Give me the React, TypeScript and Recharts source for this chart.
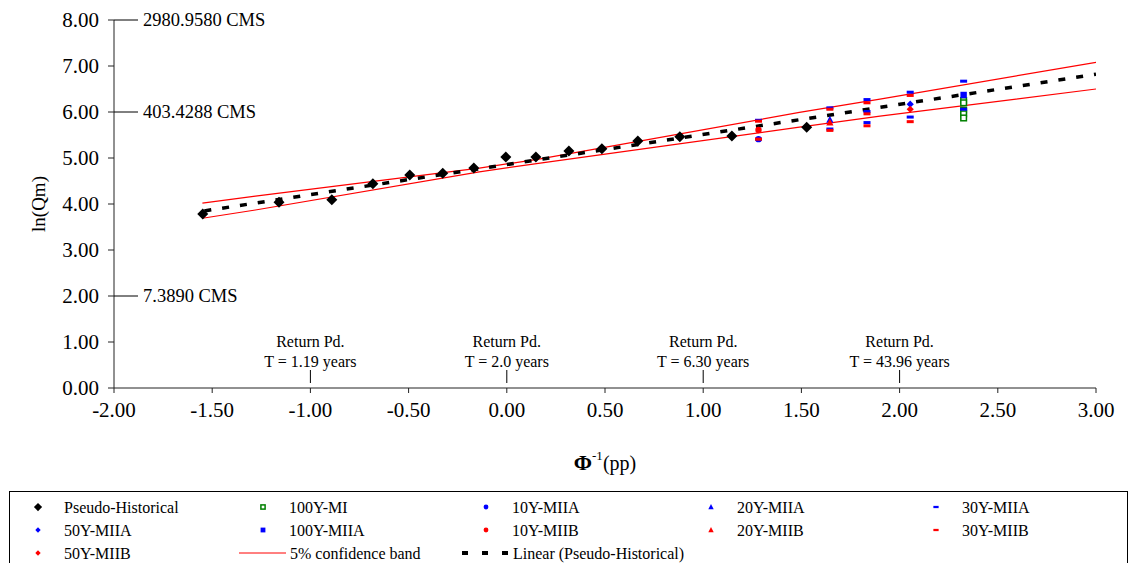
import React from "react";
import { ComposedChart, Scatter, Line, XAxis, YAxis, ReferenceDot } from "recharts";

const FONT = '"Liberation Serif", "Times New Roman", serif';

const xTicks = [-2, -1.5, -1, -0.5, 0, 0.5, 1, 1.5, 2, 2.5, 3];
const yTicks = [0, 1, 2, 3, 4, 5, 6, 7, 8];

const pseudoHistorical = [
  { x: -1.548, y: 3.78 },
  { x: -1.16, y: 4.04 },
  { x: -0.891, y: 4.09 },
  { x: -0.682, y: 4.44 },
  { x: -0.494, y: 4.63 },
  { x: -0.326, y: 4.67 },
  { x: -0.168, y: 4.78 },
  { x: -0.005, y: 5.02 },
  { x: 0.148, y: 5.02 },
  { x: 0.316, y: 5.15 },
  { x: 0.484, y: 5.2 },
  { x: 0.667, y: 5.37 },
  { x: 0.881, y: 5.46 },
  { x: 1.146, y: 5.48 },
  { x: 1.527, y: 5.67 },
];
const mi100 = [
  { x: 2.326, y: 6.25 },
  { x: 2.326, y: 6.2 },
  { x: 2.326, y: 6.04 },
  { x: 2.326, y: 5.96 },
  { x: 2.326, y: 5.87 },
];
const miia10 = [{ x: 1.2816, y: 5.41 }];
const miia20 = [{ x: 1.645, y: 5.83 }];
const miia30 = [
  { x: 1.2816, y: 5.82 },
  { x: 1.2816, y: 5.41 },
  { x: 1.645, y: 6.09 },
  { x: 1.645, y: 5.63 },
  { x: 1.834, y: 6.27 },
  { x: 1.834, y: 6.01 },
  { x: 1.834, y: 5.77 },
  { x: 2.054, y: 6.43 },
  { x: 2.054, y: 5.89 },
  { x: 2.326, y: 6.67 },
  { x: 2.326, y: 6.06 },
];
const miia50 = [{ x: 2.054, y: 6.17 }];
const miia100 = [{ x: 2.326, y: 6.37 }];
const miib10 = [{ x: 1.2816, y: 5.61 }];
const miib20 = [{ x: 1.645, y: 5.77 }];
const miib30 = [
  { x: 1.2816, y: 5.8 },
  { x: 1.2816, y: 5.41 },
  { x: 1.645, y: 6.06 },
  { x: 1.645, y: 5.6 },
  { x: 1.834, y: 6.2 },
  { x: 1.834, y: 5.96 },
  { x: 1.834, y: 5.7 },
  { x: 2.054, y: 6.36 },
  { x: 2.054, y: 5.79 },
];
const miib50 = [{ x: 2.054, y: 6.06 }];

const confUpper = [
  { x: -1.55, y: 4.02 },
  { x: -1.28, y: 4.17 },
  { x: -0.14, y: 4.78 },
  { x: 0.17, y: 4.98 },
  { x: 1.49, y: 5.99 },
  { x: 1.9, y: 6.28 },
  { x: 3.0, y: 7.08 },
];
const confLower = [
  { x: -1.55, y: 3.69 },
  { x: -1.28, y: 3.87 },
  { x: -0.14, y: 4.7 },
  { x: 0.17, y: 4.89 },
  { x: 1.49, y: 5.67 },
  { x: 1.9, y: 5.91 },
  { x: 3.0, y: 6.5 },
];
const linearTrend = [
  { x: -1.54, y: 3.85 },
  { x: 3.0, y: 6.82 },
];

const cmsLabels = [
  { y: 8, label: "2980.9580 CMS" },
  { y: 6, label: "403.4288 CMS" },
  { y: 2, label: "7.3890 CMS" },
];
const returnPeriods = [
  { x: -1, label: "T = 1.19 years" },
  { x: 0, label: "T = 2.0 years" },
  { x: 1, label: "T = 6.30 years" },
  { x: 2, label: "T = 43.96 years" },
];

const BLUE = "#0000ff";
const RED = "#ff0000";
const GREEN = "#008000";

type Kind = "diamond" | "smallDiamond" | "circle" | "triangle" | "dash" | "square" | "openSquare";

function drawMarker(kind: Kind, color: string, cx: number, cy: number, s: number) {
  switch (kind) {
    case "diamond":
    case "smallDiamond": {
      const r = (kind === "diamond" ? 5.5 : 3.6) * s;
      return (
        <polygon
          points={`${cx},${cy - r} ${cx + r},${cy} ${cx},${cy + r} ${cx - r},${cy}`}
          fill={color}
        />
      );
    }
    case "circle":
      return <circle cx={cx} cy={cy} r={3.2 * s} fill={color} />;
    case "triangle": {
      const r = 4 * s;
      return (
        <polygon
          points={`${cx},${cy - r} ${cx + r * 0.9},${cy + r * 0.75} ${cx - r * 0.9},${cy + r * 0.75}`}
          fill={color}
        />
      );
    }
    case "dash":
      return <rect x={cx - 3.5 * s} y={cy - 1.5 * s} width={7 * s} height={3 * s} fill={color} />;
    case "square":
      return <rect x={cx - 3.2 * s} y={cy - 3.2 * s} width={6.4 * s} height={6.4 * s} fill={color} />;
    case "openSquare":
      return (
        <rect
          x={cx - 2.8 * s}
          y={cy - 2.8 * s}
          width={5.6 * s}
          height={5.6 * s}
          fill="#fff"
          stroke={color}
          strokeWidth={1.5}
        />
      );
  }
}

const series: { name: string; kind: Kind; color: string; data: { x: number; y: number }[] }[] = [
  { name: "Pseudo-Historical", kind: "diamond", color: "#000", data: pseudoHistorical },
  { name: "100Y-MI", kind: "openSquare", color: GREEN, data: mi100 },
  { name: "10Y-MIIA", kind: "circle", color: BLUE, data: miia10 },
  { name: "20Y-MIIA", kind: "triangle", color: BLUE, data: miia20 },
  { name: "30Y-MIIA", kind: "dash", color: BLUE, data: miia30 },
  { name: "50Y-MIIA", kind: "smallDiamond", color: BLUE, data: miia50 },
  { name: "100Y-MIIA", kind: "square", color: BLUE, data: miia100 },
  { name: "10Y-MIIB", kind: "circle", color: RED, data: miib10 },
  { name: "20Y-MIIB", kind: "triangle", color: RED, data: miib20 },
  { name: "30Y-MIIB", kind: "dash", color: RED, data: miib30 },
  { name: "50Y-MIIB", kind: "smallDiamond", color: RED, data: miib50 },
];

function Legend() {
  const colX = [28, 253, 476, 701, 926];
  const rowY = [15, 38, 61];
  const items = series.map((s, i) => ({ ...s, col: i % 5, row: Math.floor(i / 5) }));
  return (
    <div
      style={{
        position: "absolute",
        left: 9,
        top: 491,
        width: 1119,
        height: 80,
        border: "1px solid #000",
        boxSizing: "border-box",
        background: "#fff",
      }}
    >
      <svg width={1117} height={78} style={{ position: "absolute", left: 0, top: 0 }}>
        {items.map((it) => (
          <g key={it.name}>
            {drawMarker(it.kind, it.color, colX[it.col], rowY[it.row], 0.75)}
            <text
              x={colX[it.col] + 26}
              y={rowY[it.row]}
              dominantBaseline="central"
              fontSize={16}
              fontFamily={FONT}
              fill="#000"
            >
              {it.name}
            </text>
          </g>
        ))}
        <line x1={229} y1={rowY[2]} x2={276} y2={rowY[2]} stroke={RED} strokeWidth={1} />
        <text x={280} y={rowY[2]} dominantBaseline="central" fontSize={16} fontFamily={FONT}>
          5% confidence band
        </text>
        <line x1={452} y1={rowY[2]} x2={498} y2={rowY[2]} stroke="#000" strokeWidth={4} strokeDasharray="6 14" />
        <text x={503} y={rowY[2]} dominantBaseline="central" fontSize={16} fontFamily={FONT}>
          Linear (Pseudo-Historical)
        </text>
      </svg>
    </div>
  );
}

function XLabel(props: any) {
  const vb = props.viewBox || {};
  const cx = vb.x + vb.width / 2;
  return (
    <text x={cx} y={470} textAnchor="middle" fontFamily={FONT} fill="#000">
      <tspan fontSize={22} fontWeight="bold">Φ</tspan>
      <tspan fontSize={13} dy={-10}>-1</tspan>
      <tspan fontSize={20} dy={10}>(pp)</tspan>
    </text>
  );
}

function YLabel(props: any) {
  const vb = props.viewBox || {};
  const cy = vb.y + vb.height / 2;
  return (
    <text
      x={38}
      y={cy}
      textAnchor="middle"
      dominantBaseline="central"
      transform={`rotate(-90 38 ${cy})`}
      fontSize={19}
      fontFamily={FONT}
      fill="#000"
    >
      ln(Qm)
    </text>
  );
}

export default function App() {
  const tickStyle = { fontSize: 21, fill: "#000", fontFamily: FONT };
  return (
    <div style={{ position: "absolute", left: 0, top: 0, width: 1131, height: 563, background: "#fff" }}>
      <ComposedChart width={1131} height={480} margin={{ top: 20, right: 35, left: 0, bottom: 32 }}>
        <XAxis
          dataKey="x"
          type="number"
          domain={[-2, 3]}
          ticks={xTicks}
          tickFormatter={(v: number) => v.toFixed(2)}
          tick={tickStyle}
          tickSize={5}
          tickMargin={9}
          height={60}
          stroke="#222"
          allowDataOverflow
          label={<XLabel />}
        />
        <YAxis
          dataKey="y"
          type="number"
          domain={[0, 8]}
          ticks={yTicks}
          tickFormatter={(v: number) => v.toFixed(2)}
          tick={tickStyle}
          tickSize={6}
          tickMargin={9}
          width={114}
          stroke="#222"
          allowDataOverflow
          label={<YLabel />}
        />
        {cmsLabels.map((c) => (
          <ReferenceDot
            key={c.label}
            x={-2}
            y={c.y}
            r={0}
            ifOverflow="visible"
            shape={(p: any) => (
              <g>
                <line x1={p.cx} y1={p.cy} x2={p.cx + 24} y2={p.cy} stroke="#000" />
                <text
                  x={p.cx + 29}
                  y={p.cy}
                  dominantBaseline="central"
                  fontSize={18.5}
                  fontFamily={FONT}
                  fill="#000"
                >
                  {c.label}
                </text>
              </g>
            )}
          />
        ))}
        {returnPeriods.map((r) => (
          <ReferenceDot
            key={r.label}
            x={r.x}
            y={0}
            r={0}
            ifOverflow="visible"
            shape={(p: any) => (
              <g fontFamily={FONT} fontSize={16} fill="#000">
                <line x1={p.cx} y1={p.cy - 5} x2={p.cx} y2={p.cy - 18} stroke="#000" />
                <text x={p.cx} y={p.cy - 47} textAnchor="middle" dominantBaseline="central">
                  Return Pd.
                </text>
                <text x={p.cx} y={p.cy - 27} textAnchor="middle" dominantBaseline="central">
                  {r.label}
                </text>
              </g>
            )}
          />
        ))}
        {series.map((s) => (
          <Scatter
            key={s.name}
            name={s.name}
            data={s.data}
            isAnimationActive={false}
            shape={(p: any) => drawMarker(s.kind, s.color, p.cx, p.cy, 1)}
          />
        ))}
        <Line
          data={confUpper}
          dataKey="y"
          type="linear"
          stroke={RED}
          strokeWidth={1.2}
          dot={false}
          isAnimationActive={false}
        />
        <Line
          data={confLower}
          dataKey="y"
          type="linear"
          stroke={RED}
          strokeWidth={1.2}
          dot={false}
          isAnimationActive={false}
        />
        <Line
          data={linearTrend}
          dataKey="y"
          type="linear"
          stroke="#000"
          strokeWidth={3.5}
          strokeDasharray="7 11"
          dot={false}
          isAnimationActive={false}
        />
      </ComposedChart>
      <Legend />
    </div>
  );
}
